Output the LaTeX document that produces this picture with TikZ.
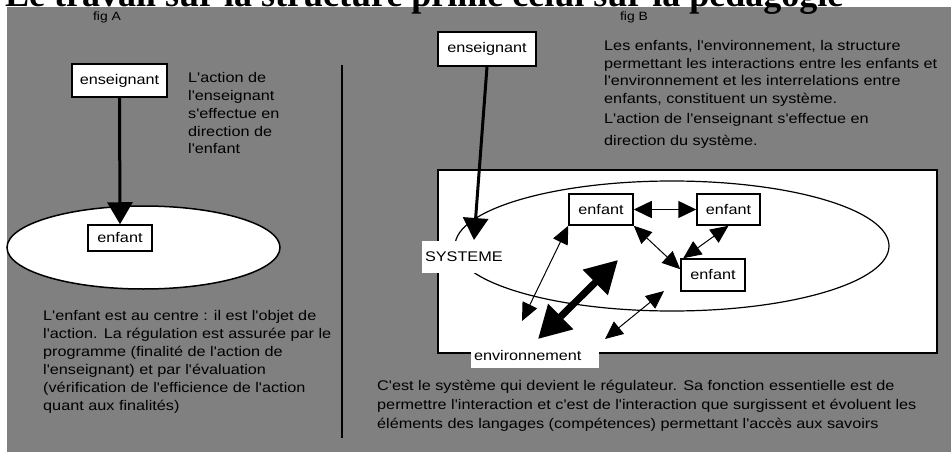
\documentclass[tikz,border=0pt]{standalone}
\usepackage{fontspec}
\setmainfont{Liberation Serif}
\newfontfamily\bodyfont[FakeStretch=1.16]{Liberation Sans}
\usetikzlibrary{arrows.meta,calc}
\definecolor{bggray}{RGB}{128,128,128}

\begin{document}
\begin{tikzpicture}[x=1pt,y=-1pt,
  box/.style={draw,line width=1.5pt,fill=white,inner sep=0pt,
    font=\bodyfont\fontsize{14}{17}\selectfont},
  tag/.style={fill=white,inner sep=3pt,align=left,
    font=\bodyfont\fontsize{14}{17}\selectfont},
  para/.style={anchor=north west,inner sep=0pt,align=left},
  bigarrow/.style={-{Triangle[length=22pt,width=25pt]},line width=3pt},
  medarrow/.style={{Triangle[length=18pt,width=17pt]}-{Triangle[length=18pt,width=17pt]},line width=1.5pt},
  thinarrow/.style={{Triangle[length=18pt,width=16pt]}-{Triangle[length=18pt,width=16pt]},line width=1pt},
  heavyarrow/.style={{Triangle[length=32pt,width=34pt]}-{Triangle[length=32pt,width=34pt]},line width=7pt}]

\useasboundingbox (0,0) rectangle (951,452);
\clip (0,0) rectangle (951,452);

% page background
\fill[bggray] (7,7) rectangle (951,452);

% heading
\node[anchor=base west,inner sep=0pt,font=\bfseries\fontsize{36}{40}\selectfont] (title) at (5,7)
  {Le travail sur la structure prime celui sur la pédagogie};

\node[font=\bodyfont\fontsize{12}{14}\selectfont,inner sep=0pt] (figA) at (107,17) {fig A};
\node[font=\bodyfont\fontsize{12}{14}\selectfont,inner sep=0pt] (figB) at (634,17) {fig B};

% ---------- figure A ----------
\draw[line width=1.5pt,fill=white] (143.5,247.5) ellipse [x radius=136.5pt,y radius=41.5pt];
\node[box,minimum width=95pt,minimum height=33pt] (ensA) at (119.5,80.5) {enseignant};
\node[box,minimum width=64pt,minimum height=26pt] (enfA) at (120,238) {enfant};
\draw[bigarrow] (ensA.south) -- (enfA.north);

\node[para,font=\bodyfont\fontsize{14}{17.75}\selectfont] (txtA) at (188,72.5)
  {L'action de\\l'enseignant\\s'effectue en\\direction de\\l'enfant};

\node[para,font=\bodyfont\fontsize{14}{18}\selectfont] (txtA2) at (43,310.5)
  {L'enfant est au centre : il est l'objet de\\
   l'action. La régulation est assurée par le\\
   programme (finalité de l'action de\\
   l'enseignant) et par l'évaluation\\
   (vérification de l'efficience de l'action\\
   quant aux finalités)};

% separator
\draw[line width=1.5pt] (342,65) -- (342,438);

% ---------- figure B ----------
\node[box,minimum width=98pt,minimum height=34pt] (ensB) at (487,49) {enseignant};

\node[para,font=\bodyfont\fontsize{14}{17.5}\selectfont] (txtB) at (604,40.5)
  {Les enfants, l'environnement, la structure\\
   permettant les interactions entre les enfants et\\
   l'environnement et les interrelations entre\\
   enfants, constituent un système.\\[2.5pt]
   L'action de l'enseignant s'effectue en\\[4.5pt]
   direction du système.};

\draw[line width=2pt,fill=white] (438,170) rectangle (937,353);
\draw[line width=1.2pt] (672,246) ellipse [x radius=217pt,y radius=65pt];

\node[tag,text width=75pt,minimum height=32pt] (sys) at (462.5,257) {SYSTEME};
\node[tag,text width=122pt,minimum height=25pt] (env) at (535,355.5) {environnement};

\node[box,minimum width=64pt,minimum height=31pt] (e1) at (601,209.5) {enfant};
\node[box,minimum width=63pt,minimum height=31pt] (e2) at (728.5,209.5) {enfant};
\node[box,minimum width=64pt,minimum height=32pt] (e3) at (713,275) {enfant};

\coordinate (sysin) at (474,240);
\coordinate (a1) at (522,321);
\coordinate (t1) at (618,260);
\coordinate (t2) at (538,339);
\coordinate (c1) at (664,291);
\coordinate (c2) at (605,339);

\draw[medarrow] (e1.east) -- (e2.west);
\draw[thinarrow] (e1.south east) -- ($(e3.north west)+(0,11)$);
\draw[thinarrow] (e2.south) -- ($(e3.north west)+(3,0)$);
\draw[thinarrow] (e1.south west) -- (a1);
\draw[heavyarrow] (t1) -- (t2);
\draw[thinarrow] (c1) -- (c2);
\draw[bigarrow] (ensB.south) -- (sysin);

\node[para,font=\bodyfont\fontsize{14}{19}\selectfont] (txtB2) at (377,379.5)
  {C'est le système qui devient le régulateur. Sa fonction essentielle est de\\
   permettre l'interaction et c'est de l'interaction que surgissent et évoluent les\\
   éléments des langages (compétences) permettant l'accès aux savoirs};
\end{tikzpicture}
\end{document}
